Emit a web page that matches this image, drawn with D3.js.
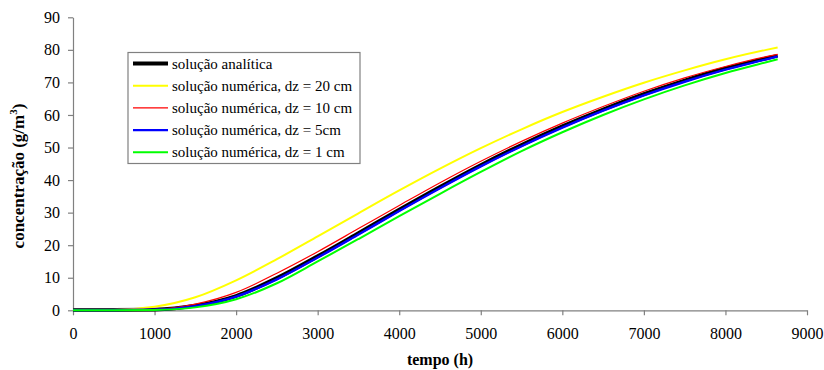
<!DOCTYPE html>
<html lang="pt">
<head>
  <meta charset="UTF-8" />
  <title>concentração x tempo</title>
  <style>
    body { margin: 0; background: #fff; }
    svg text { font-family: 'Liberation Serif', 'Times New Roman', serif; fill: #000; }
    .axis path, .axis line { stroke: #808080; stroke-width: 1.2px; }
    .axis text { font-size: 16px; }
    .title { font-size: 16px; font-weight: bold; }
    .legend text { font-size: 15px; }
  </style>
</head>
<body>
  <svg id="chart" width="824" height="370"></svg>

  <script src="https://d3js.org/d3.v7.min.js"></script>
  <script>
    const SERIF = "'Liberation Serif', 'Times New Roman', serif";

    // tempo (h)
    const tempo = [0, 500, 1000, 1500, 2000, 2500, 3000, 3500, 4000, 4500,
                   5000, 5500, 6000, 6500, 7000, 7500, 8000, 8500, 8640];

    // concentração (g/m3) por série
    const analitica = [0.1, 0.1, 0.2, 1.4, 4.4, 9.9, 16.6, 23.7, 30.9, 37.9,
                       44.6, 50.8, 56.5, 61.7, 66.4, 70.6, 74.3, 77.4, 78.2];
    const dz20 = [0.2, 0.2, 1.1, 4.0, 9.2, 15.7, 22.7, 29.8, 36.8, 43.5,
                  49.8, 55.6, 60.9, 65.6, 69.9, 73.7, 77.1, 80.0, 80.7];
    const dz10 = [0.2, 0.2, 0.3, 1.9, 5.5, 11.4, 18.0, 25.1, 32.2, 39.2,
                  45.8, 51.9, 57.5, 62.6, 67.3, 71.4, 74.9, 77.9, 78.6];
    const dz5 = [0.1, 0.1, 0.2, 1.3, 4.2, 9.5, 16.2, 23.3, 30.5, 37.5,
                 44.2, 50.4, 56.1, 61.3, 66.0, 70.2, 73.9, 77.1, 78.0];
    const dz1 = [0.0, 0.0, 0.1, 0.9, 3.4, 8.3, 15.0, 21.9, 28.9, 35.8,
                 42.5, 48.9, 54.7, 60.0, 64.8, 69.1, 72.9, 76.2, 77.1];

    const xTicks = [0, 1000, 2000, 3000, 4000, 5000, 6000, 7000, 8000, 9000];
    const yTicks = [0, 10, 20, 30, 40, 50, 60, 70, 80, 90];

    const series = [
      { name: "solução analítica", values: analitica, color: "#000000", width: 3.8 },
      { name: "solução numérica, dz = 20 cm", values: dz20, color: "#FFFF00", width: 2 },
      { name: "solução numérica, dz = 10 cm", values: dz10, color: "#FF0000", width: 1.2 },
      { name: "solução numérica, dz = 5cm", values: dz5, color: "#0000FF", width: 2.4 },
      { name: "solução numérica, dz = 1 cm", values: dz1, color: "#00FF00", width: 2 }
    ];

    const svg = d3.select("#chart");
    const mLeft = 73, mRight = 807, mTop = 17.3, mBottom = 310.3;

    const x = d3.scaleLinear().domain([0, 9000]).range([mLeft, mRight]);
    const y = d3.scaleLinear().domain([0, 90]).range([mBottom, mTop]);

    svg.append("g")
      .attr("class", "axis")
      .attr("transform", `translate(0,${mBottom})`)
      .call(d3.axisBottom(x).tickValues(xTicks).tickFormat(d3.format("d"))
        .tickSize(5).tickSizeOuter(0).tickPadding(12))
      .attr("font-family", SERIF)
      .attr("font-size", 16);

    svg.append("g")
      .attr("class", "axis")
      .attr("transform", `translate(${mLeft},0)`)
      .call(d3.axisLeft(y).tickValues(yTicks).tickFormat(d3.format("d"))
        .tickSize(5).tickSizeOuter(0).tickPadding(8))
      .attr("font-family", SERIF)
      .attr("font-size", 16);

    const line = d3.line()
      .x((d, i) => x(tempo[i]))
      .y(d => y(d))
      .curve(d3.curveMonotoneX);

    svg.append("g")
      .selectAll("path")
      .data(series)
      .join("path")
      .attr("fill", "none")
      .attr("stroke", d => d.color)
      .attr("stroke-width", d => d.width)
      .attr("d", d => line(d.values));

    // títulos dos eixos
    svg.append("text")
      .attr("class", "title")
      .attr("x", (mLeft + mRight) / 2)
      .attr("y", 365)
      .attr("text-anchor", "middle")
      .text("tempo (h)");

    const yTitle = svg.append("text")
      .attr("class", "title")
      .style("font-size", "17px")
      .attr("transform", "translate(24,176) rotate(-90)")
      .attr("text-anchor", "middle");
    yTitle.append("tspan").text("concentração (g/m");
    yTitle.append("tspan").attr("dy", -7).attr("font-size", "11px").text("3");
    yTitle.append("tspan").attr("dy", 7).text(")");

    // legenda
    const legend = svg.append("g").attr("class", "legend");
    legend.append("rect")
      .attr("x", 128).attr("y", 52.5)
      .attr("width", 232).attr("height", 111)
      .attr("fill", "#fff")
      .attr("stroke", "#808080")
      .attr("stroke-width", 1.2);

    const item = legend.selectAll("g.item")
      .data(series)
      .join("g")
      .attr("class", "item")
      .attr("transform", (d, i) => `translate(0,${63.5 + i * 22.2})`);

    item.append("line")
      .attr("x1", 133).attr("x2", 168)
      .attr("stroke", d => d.color)
      .attr("stroke-width", d => d.width);

    item.append("text")
      .attr("x", 172)
      .attr("y", 5)
      .text(d => d.name);
  </script>
</body>
</html>
